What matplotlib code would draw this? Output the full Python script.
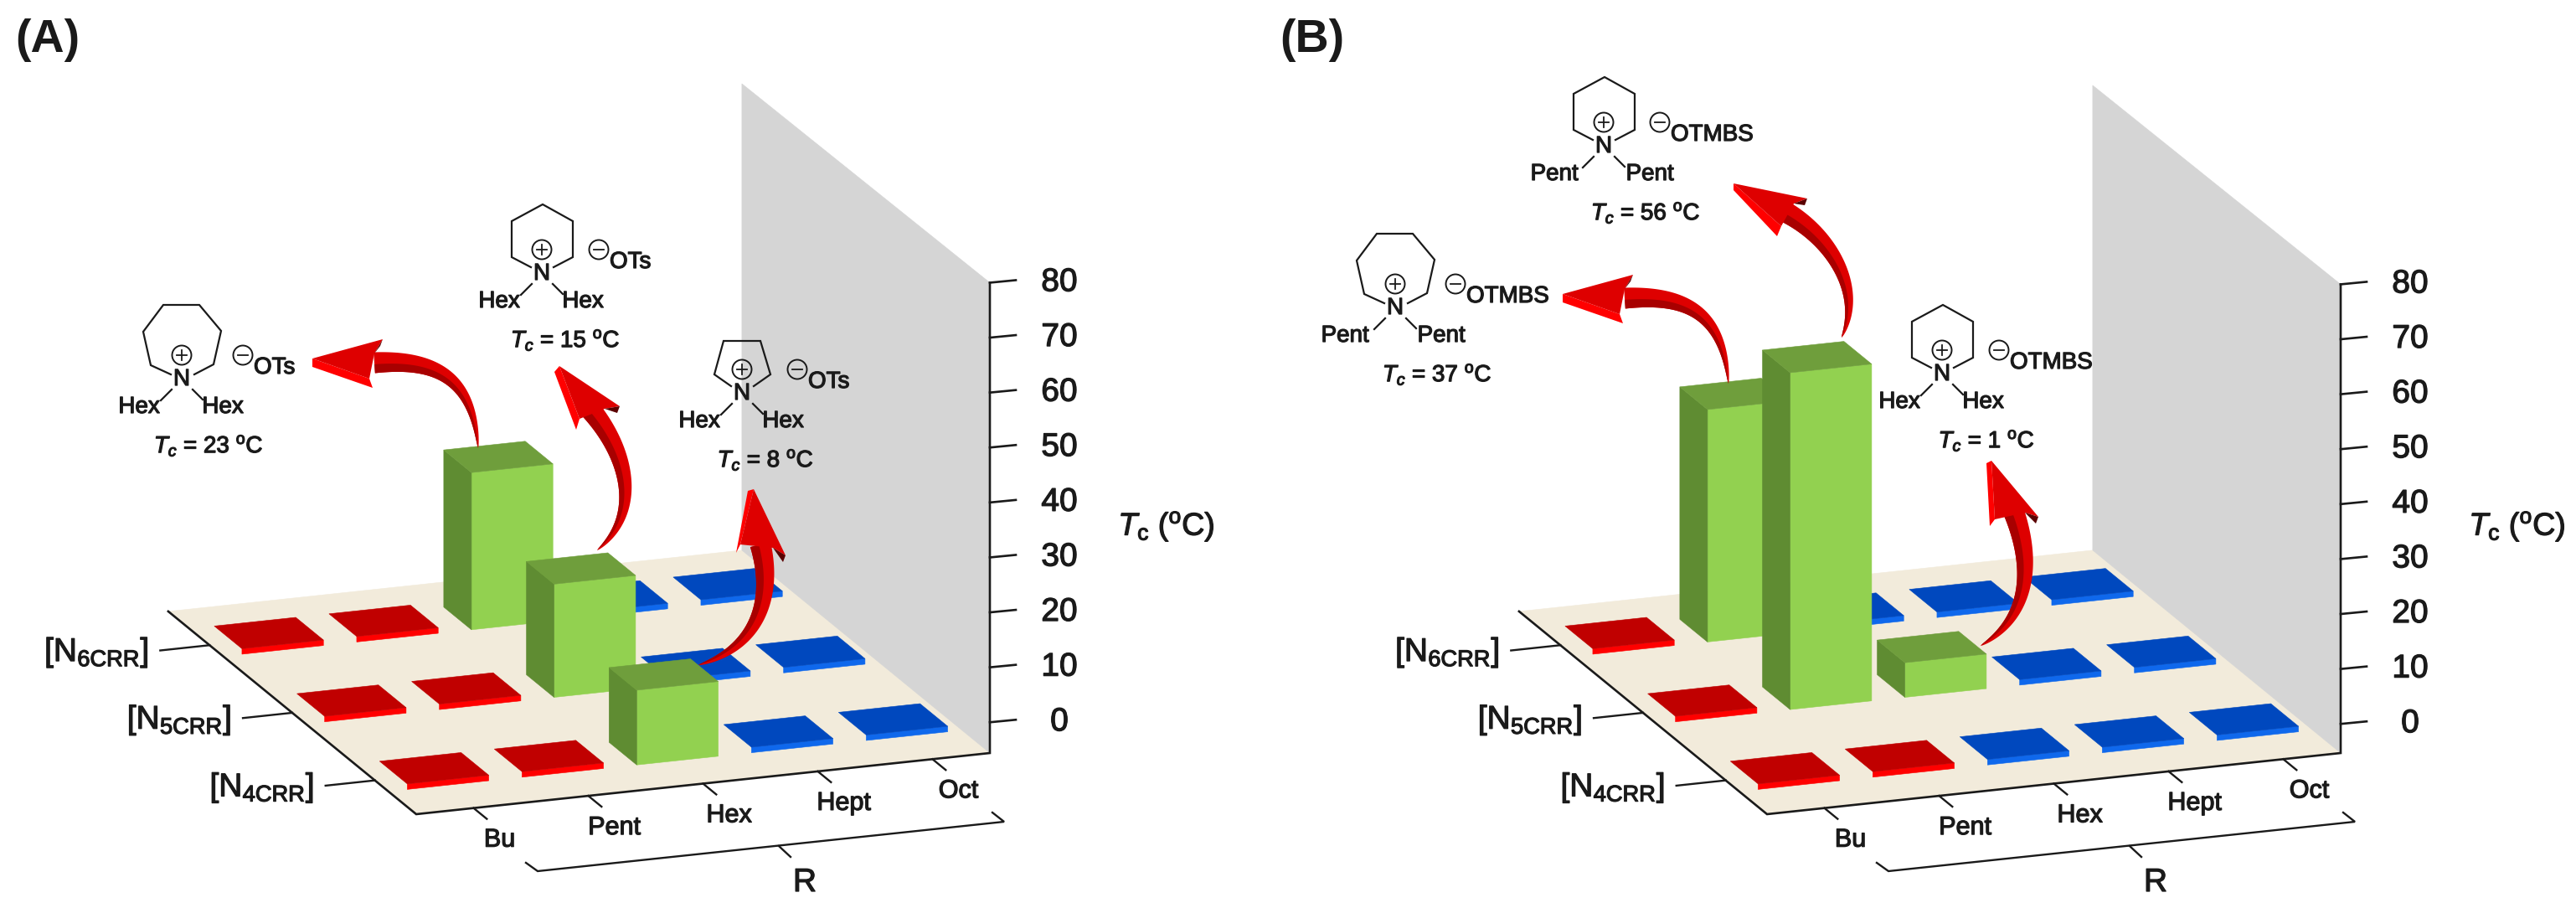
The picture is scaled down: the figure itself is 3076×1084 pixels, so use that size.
import matplotlib
matplotlib.use('Agg')
import matplotlib.pyplot as plt
import matplotlib.patheffects as pe
from matplotlib.patches import Polygon, Circle
import numpy as np

plt.rcParams['font.family'] = ['Liberation Sans', 'DejaVu Sans']
plt.rcParams['mathtext.fontset'] = 'custom'
plt.rcParams['mathtext.rm'] = 'Liberation Sans'
plt.rcParams['mathtext.it'] = 'Liberation Sans:italic'
plt.rcParams['mathtext.bf'] = 'Liberation Sans:bold'

# data
r_labels = ['Bu', 'Pent', 'Hex', 'Hept', 'Oct']
row_labels = [r'[N$_{\mathrm{4CRR}}$]', r'[N$_{\mathrm{5CRR}}$]', r'[N$_{\mathrm{6CRR}}$]']
z_ticks = [0, 10, 20, 30, 40, 50, 60, 70, 80]

# one list per cation, a number is a measured Tc (deg C) and gets a bar
a_n4 = ['red', 'red', 8, 'blue', 'blue']
a_n5 = ['red', 'red', 15, 'blue', 'blue']
a_n6 = ['red', 'red', 23, 'blue', 'blue']
b_n4 = ['red', 'red', 'blue', 'blue', 'blue']
b_n5 = ['red', 56, 1, 'blue', 'blue']
b_n6 = ['red', 37, 'blue', 'blue', 'blue']

# projection, in pixels of the picture
U = np.array([137.0, -14.6])   # one column along R
V = np.array([-98.7, -80.7])   # one row along cation
Z = 6.56                       # one degree

RED = ('#C00000', '#FF0000')
BLUE = ('#0048BE', '#0F68EC')
GREEN_FRONT, GREEN_SIDE, GREEN_TOP = '#92D150', '#5F8C32', '#6F9E3C'
BLACK = '#1A1A1A'

fig = plt.figure(figsize=(30.76, 10.84), dpi=100)
ax = fig.add_axes([0, 0, 1, 1])
ax.set_xlim(0, 3076)
ax.set_ylim(1084, 0)
ax.axis('off')


def label(x, y, s, size=20, ha='center', stroke=0.9, **kw):
    effects = [pe.withStroke(linewidth=stroke, foreground=BLACK)] if stroke else []
    ax.text(x, y, s, fontsize=size, ha=ha, va='center', color=BLACK,
            path_effects=effects, **kw)


def panel(origin, rows, z_base):
    origin = np.array(origin, dtype=float)

    def pt(col, row, z=None):
        z = z_base if z is None else z
        return origin + col * U + row * V + np.array([0, -(z - z_base) * Z])

    def poly(points, color, zorder=2):
        ax.add_patch(Polygon(points, closed=True, fc=color, ec=color, lw=0.4, zorder=zorder))

    # floor and wall
    poly([pt(0, 0), pt(5, 0), pt(5, 3), pt(0, 3)], '#F2EBDB', 1)
    poly([pt(5, 0), pt(5, 3), pt(5, 3, 79.3), pt(5, 0, 80)], '#D5D5D5', 1)

    # axis lines
    line = np.array([pt(0, 3), pt(0, 0), pt(5, 0), pt(5, 0, 80)])
    ax.plot(line[:, 0], line[:, 1], color=BLACK, lw=1.9, zorder=1.5, solid_joinstyle='miter')

    # tiles and bars, back to front
    x0, dx, y0, dy = 0.165, 0.71, 0.337, 0.335
    for row in [2, 1, 0]:
        for col, cell in enumerate(rows[row]):
            a, b = col + x0, row + y0
            if isinstance(cell, str):
                top_c, front_c = RED if cell == 'red' else BLUE
                h = z_base + 1.0
                poly([pt(a, b), pt(a + dx, b), pt(a + dx, b, h), pt(a, b, h)], front_c, 3)
                poly([pt(a, b, h), pt(a + dx, b, h), pt(a + dx, b + dy, h), pt(a, b + dy, h)], top_c, 3)
            else:
                poly([pt(a, b), pt(a + dx, b), pt(a + dx, b, cell), pt(a, b, cell)], GREEN_FRONT, 4)
                poly([pt(a, b), pt(a, b, cell), pt(a, b + dy, cell), pt(a, b + dy)], GREEN_SIDE, 4)
                poly([pt(a, b, cell), pt(a + dx, b, cell), pt(a + dx, b + dy, cell), pt(a, b + dy, cell)], GREEN_TOP, 4)

    # z ticks
    for z in z_ticks:
        p = pt(5, 0, z)
        ax.plot([p[0], p[0] + 31], [p[1], p[1] - 3], color=BLACK, lw=1.9, zorder=2)
        label(p[0] + 83, p[1], str(z), size=28)

    # column ticks and labels
    for i, name in enumerate(r_labels):
        p = pt(i + 0.5, 0)
        q = p - 0.16 * V
        ax.plot([p[0], q[0]], [p[1], q[1]], color=BLACK, lw=1.7, zorder=2)
        label(p[0] + 31, p[1] + 38, name, size=22)

    # row ticks and labels
    for j, name in enumerate(row_labels):
        p = pt(0, j + 0.5)
        q = p - 0.43 * U
        ax.plot([p[0], q[0]], [p[1], q[1]], color=BLACK, lw=1.7, zorder=2)
        label(p[0] - 135, p[1] + 9, name, size=28)

    # R bracket
    o = origin
    br = np.array([[131, 58], [145, 68], [702, 9], [688, -2]]) + o
    ax.plot(br[:, 0], br[:, 1], color=BLACK, lw=1.7, solid_joinstyle='miter', zorder=2)
    ax.plot([o[0] + 433, o[0] + 447], [o[1] + 38, o[1] + 51], color=BLACK, lw=1.7, zorder=2)
    label(o[0] + 464, o[1] + 82, 'R', size=28)
    label(o[0] + 896, o[1] - 344, r'$\mathit{T}_{\mathrm{c}}$ ($^{\mathrm{o}}$C)', size=27)


def arrow(p0, p1, p2, p3, tip, tip2, back_a, back_b, back_top, notch, width=25):
    P = [np.array(p, dtype=float) for p in (p0, p1, p2, p3)]
    t = np.linspace(0, 1, 80)[:, None]
    c = (1 - t) ** 3 * P[0] + 3 * (1 - t) ** 2 * t * P[1] + 3 * (1 - t) * t ** 2 * P[2] + t ** 3 * P[3]
    d = 3 * (1 - t) ** 2 * (P[1] - P[0]) + 6 * (1 - t) * t * (P[2] - P[1]) + 3 * t ** 2 * (P[3] - P[2])
    d = d / np.linalg.norm(d, axis=1, keepdims=True)
    n = np.column_stack([-d[:, 1], d[:, 0]])
    # n has to point to the concave side
    if np.dot(n[40], (P[0] + P[3]) / 2 - c[40]) < 0:
        n = -n
    hw = width / 2 * t ** 0.65
    inner, outer = c + n * hw, c - n * hw
    mid = c + n * hw * 0.15
    ax.add_patch(Polygon(np.vstack([outer, inner[::-1]]), fc='#DE0000', ec='none', zorder=6))
    ax.add_patch(Polygon(np.vstack([mid, inner[::-1]]), fc='#A80000', ec='none', zorder=6))
    ax.add_patch(Polygon([tip, tip2, back_b, back_top], fc='#FF0000', ec='none', zorder=7))
    ax.add_patch(Polygon([tip, back_a, notch, back_top], fc='#DE0000', ec='none', zorder=7))
    ax.add_patch(Polygon([back_a, (back_a[0] - 3, back_a[1] + 8), notch], fc='#5A0000', ec='none', zorder=7))


def molecule(n, ring, cation_sub, anion, tc, anion_off, tc_off, sub_off):
    nx, ny = n
    pts = np.array(ring, dtype=float) + n
    ax.plot(pts[:, 0], pts[:, 1], color=BLACK, lw=1.6, zorder=8, solid_joinstyle='miter')
    label(nx, ny, 'N', zorder=9)
    # charges
    ax.add_patch(Circle((nx, ny - 29), 11.5, fc='none', ec=BLACK, lw=1.4, zorder=8))
    ax.plot([nx - 6, nx + 6], [ny - 29, ny - 29], color=BLACK, lw=1.3, zorder=8)
    ax.plot([nx, nx], [ny - 35, ny - 23], color=BLACK, lw=1.3, zorder=8)
    mx, my = nx + anion_off - 13, ny - 29
    ax.add_patch(Circle((mx, my), 11.5, fc='none', ec=BLACK, lw=1.4, zorder=8))
    ax.plot([mx - 6, mx + 6], [my, my], color=BLACK, lw=1.3, zorder=8)
    label(nx + anion_off, ny - 14, anion, ha='left', zorder=9)
    # substituents
    ax.plot([nx - 12, nx - 25], [ny + 12, ny + 25], color=BLACK, lw=1.6, zorder=8)
    ax.plot([nx + 13, nx + 25], [ny + 12, ny + 24], color=BLACK, lw=1.6, zorder=8)
    label(nx - sub_off[0], ny + 33, cation_sub, zorder=9)
    label(nx + sub_off[1], ny + 33, cation_sub, zorder=9)
    label(nx + tc_off, ny + 79,
          r'$\mathit{T}_{\mathit{c}}$ = %s $^{\mathrm{o}}$C' % tc, zorder=9)


RING7 = [(-13, -6), (-37, -17), (-46, -57), (-22, -89), (21, -89), (47, -58), (38, -18), (15, -6)]
RING6 = [(-13, -8), (-36, -20), (-36, -63), (1, -83), (37, -63), (37, -20), (14, -8)]
RING5 = [(-13, -9), (-33, -23), (-22, -63), (22, -63), (34, -23), (14, -9)]

panel((497, 972), [a_n4, a_n5, a_n6], -5.6)
panel((2110, 972), [b_n4, b_n5, b_n6], -5.3)

label(57, 48, '(A)', size=40, fontweight='bold', stroke=0)
label(1567, 48, '(B)', size=40, fontweight='bold', stroke=0)

molecule((217, 453), RING7, 'Hex', 'OTs', '23', 86, 32, (51, 49))
molecule((647, 327), RING6, 'Hex', 'OTs', '15', 81, 28, (51, 49))
molecule((886, 470), RING5, 'Hex', 'OTs', '8', 79, 28, (51, 49))
molecule((1666, 368), RING7, 'Pent', 'OTMBS', '37', 85, 50, (60, 55))
molecule((1915, 175), RING6, 'Pent', 'OTMBS', '56', 80, 50, (59, 55))
molecule((2319, 447), RING6, 'Hex', 'OTMBS', '1', 81, 53, (51, 49))

# curved arrows
arrow((571, 535), (565, 450), (520, 428), (447, 433),
      (373, 428), (373, 438), (457, 405), (445, 463), (441, 452), (447, 422))
arrow((713, 657), (765, 615), (752, 545), (706, 490),
      (668, 437), (662, 444), (740, 485), (688, 513), (692, 500), (722, 488))
arrow((834, 794), (900, 775), (926, 720), (908, 650),
      (900, 584), (893, 586), (938, 663), (879, 660), (884, 650), (923, 654))
arrow((2064, 458), (2058, 373), (2013, 351), (1940, 356),
      (1866, 351), (1866, 361), (1950, 328), (1938, 386), (1934, 375), (1940, 345))
arrow((2199, 403), (2225, 350), (2190, 285), (2132, 253),
      (2070, 219), (2070, 227), (2158, 237), (2122, 282), (2127, 270), (2142, 243))
arrow((2365, 771), (2420, 740), (2430, 680), (2405, 612),
      (2378, 550), (2372, 553), (2434, 617), (2376, 628), (2382, 620), (2418, 612))

fig.savefig('out.png', dpi=100)
